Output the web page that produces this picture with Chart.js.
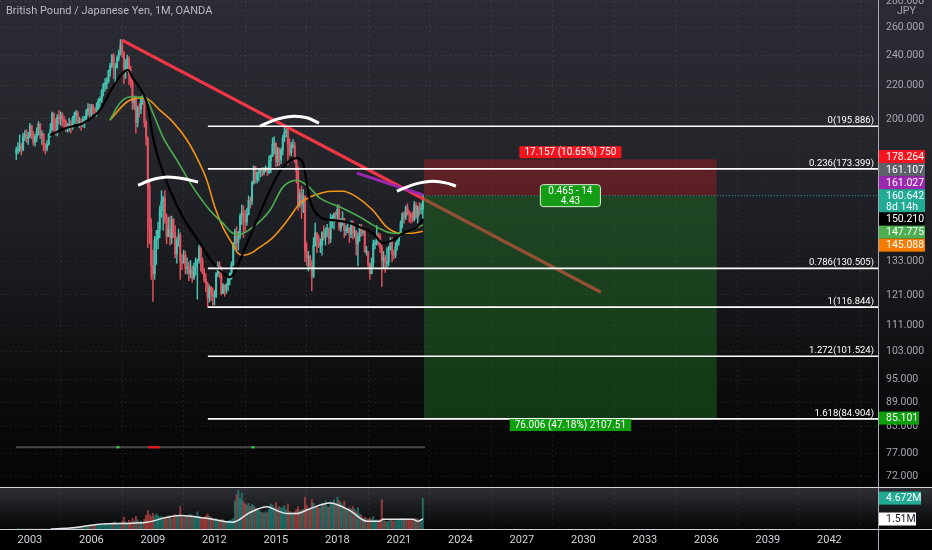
<!DOCTYPE html>
<html lang="en">
<head>
<meta charset="UTF-8">
<meta name="viewport" content="width=device-width, initial-scale=1.0">
<title>British Pound / Japanese Yen, 1M, OANDA</title>
<script src="https://cdn.jsdelivr.net/npm/chart.js"></script>
<style>
  html, body { margin: 0; padding: 0; background: #000; }
  #wrap { position: relative; width: 932px; height: 550px; overflow: hidden; }
  #pricePane { position: absolute; left: 0; top: 0; width: 932px; height: 488px;
    background: linear-gradient(180deg, #2b2c33 0%, #25262c 30%, #18191d 58%, #0c0c0e 80%, #040405 100%); }
  #volPane { position: absolute; left: 0; top: 488px; width: 932px; height: 62px;
    background: linear-gradient(180deg, #2f3035 0px, #18191c 22px, #050505 41px, #000 42px, #000 62px); }
  canvas { display: block; }
</style>
</head>
<body>
<div id="wrap">
  <div id="pricePane"><canvas id="priceChart" width="932" height="488"></canvas></div>
  <div id="volPane"><canvas id="volChart" width="932" height="62"></canvas></div>
</div>
<script>
Chart.defaults.font.family = 'Roboto, "Noto Sans", sans-serif';

// monthly candles, May 2002 .. Mar 2022
const firstYear = 2002;
const firstMonth = 5;
const firstOpen = 181.5;

const closes = [
  183.0,183.5,185.5,183.0,190.0,191.5,189.0,190.5,
  196.0,190.5,187.0,190.0,193.0,197.0,191.0,191.5,185.0,183.5,186.0,191.5,
  194.0,203.0,195.0,192.0,201.0,200.0,202.5,199.0,198.5,195.0,195.5,197.0,
  195.0,200.5,202.0,203.5,198.0,198.5,197.0,199.5,200.5,204.5,206.0,202.5,
  207.5,205.0,204.5,207.0,210.5,211.5,216.5,220.5,221.5,223.0,229.5,233.0,
  239.5,231.5,232.0,238.0,241.5,247.0,241.5,230.5,235.0,237.5,226.5,222.0,
  209.5,212.0,198.0,206.5,205.5,211.5,213.0,198.0,189.5,165.0,146.5,131.5,
  128.5,141.5,142.0,145.5,154.0,158.0,159.5,150.0,143.0,146.0,142.5,150.0,
  144.5,136.0,141.5,143.5,133.0,132.5,135.5,130.5,131.0,128.5,130.0,127.0,
  131.0,133.0,133.5,138.5,133.5,129.0,126.5,125.0,120.0,123.5,121.5,120.5,
  120.5,128.5,131.5,131.0,121.5,124.5,122.5,124.5,126.5,128.5,132.0,140.0,
  145.0,140.5,143.0,151.5,153.0,151.0,149.0,152.5,158.5,158.0,166.5,174.5,
  168.0,171.5,172.0,173.0,171.5,173.5,173.5,171.5,177.5,180.0,186.0,186.5,
  177.0,183.5,178.0,183.0,189.5,192.5,193.5,186.0,181.5,185.0,185.5,177.5,
  172.0,156.5,161.5,156.5,160.5,137.0,134.5,135.0,131.5,127.5,139.5,144.5,
  142.0,139.5,139.5,144.5,142.5,146.0,146.0,142.0,150.5,151.0,152.5,152.0,
  154.5,146.5,149.0,150.5,145.5,146.0,146.5,144.0,148.0,144.5,145.0,140.0,
  143.0,147.0,144.5,145.0,137.0,137.0,132.0,128.5,132.5,140.0,140.5,143.5,
  143.0,138.5,133.5,134.5,132.5,133.0,138.5,141.5,136.0,135.5,139.0,141.0,
  143.5,148.5,152.5,151.0,155.5,153.5,152.5,151.0,150.0,156.5,151.0,155.5,
  154.5,154.5,160.642
];
const highs = [
  184.5,187.0,191.0,186.5,192.0,193.5,194.0,192.5,
  197.5,196.5,193.0,191.5,195.0,198.5,197.5,193.5,192.0,186.5,188.0,192.0,
  197.5,204.0,203.5,200.0,202.5,205.0,204.0,203.5,201.5,199.5,197.5,200.5,
  199.0,201.5,204.0,205.0,204.5,201.0,200.0,201.5,201.5,205.5,209.0,208.5,
  208.5,208.5,206.5,209.5,212.0,213.0,217.5,221.5,224.5,225.0,230.0,234.5,
  240.5,241.0,234.5,239.5,243.5,251.0,250.5,242.5,237.0,240.0,239.0,232.5,
  224.5,213.5,213.5,207.5,209.0,213.0,215.5,213.5,199.5,190.0,168.0,150.5,
  137.5,143.0,145.5,149.0,156.0,163.0,160.5,163.0,152.5,151.0,151.5,151.5,
  150.5,147.5,142.5,146.0,144.5,136.0,137.5,137.0,134.5,133.0,133.5,131.5,
  132.5,134.5,134.0,139.5,139.0,134.5,130.5,128.5,125.5,124.5,124.0,123.5,
  122.5,129.0,133.0,133.0,130.5,125.0,124.5,125.0,127.5,129.0,133.0,140.5,
  146.0,147.0,145.0,152.5,156.5,156.0,154.0,155.0,160.5,160.0,167.5,175.0,
  174.5,172.0,173.0,173.5,174.0,174.0,175.0,174.0,180.0,180.5,189.5,190.0,
  187.0,184.5,184.0,184.0,191.0,195.9,195.0,195.5,189.0,187.0,188.5,187.0,
  178.5,174.5,163.5,165.0,163.5,160.5,140.5,137.0,135.5,133.5,142.5,148.5,
  144.5,143.5,142.0,145.0,147.5,146.5,148.0,146.5,152.5,152.0,153.0,153.5,
  156.5,156.5,150.5,153.5,150.5,147.5,149.0,146.5,149.5,149.5,147.0,145.5,
  144.5,148.0,148.0,146.5,146.0,139.0,137.0,132.5,134.5,141.5,141.5,147.5,
  144.5,144.0,139.5,137.0,135.5,138.5,139.0,142.5,142.5,137.5,140.5,141.5,
  144.5,149.5,153.0,153.5,156.0,157.0,154.0,153.0,153.5,158.0,157.5,156.0,
  157.5,157.0,161.1
];
const lows = [
  178.0,181.0,182.0,180.5,182.5,188.0,187.0,186.0,
  189.5,189.0,185.5,185.0,187.5,191.0,189.0,186.0,182.5,181.0,182.5,185.5,
  190.0,193.5,192.0,191.0,190.5,197.0,196.5,196.0,195.0,193.0,192.5,193.0,
  192.0,194.0,197.5,197.5,196.5,195.0,193.5,195.5,195.0,198.0,202.0,200.0,
  201.5,203.0,201.5,201.5,204.5,205.0,209.5,213.5,216.5,218.0,221.5,226.0,
  231.5,224.5,220.5,231.0,236.0,240.0,238.5,221.0,224.5,229.0,220.5,219.0,
  205.5,205.5,192.0,195.5,201.0,203.0,208.5,195.5,185.5,138.5,140.0,126.5,
  118.8,126.5,132.0,138.0,142.5,151.0,145.5,148.5,140.0,143.0,139.5,140.0,
  142.5,134.5,132.5,139.0,126.5,130.0,132.5,128.5,128.5,126.0,127.0,125.5,
  126.5,128.0,119.5,132.5,129.5,128.5,125.5,122.0,116.8,118.5,119.0,117.5,
  117.5,120.0,127.5,127.0,121.0,121.5,120.5,121.5,122.5,124.5,126.5,131.5,
  138.0,137.5,137.5,142.0,148.0,142.5,145.0,147.5,152.0,155.0,156.5,166.0,
  166.5,166.5,167.5,169.5,170.0,170.5,172.0,170.0,171.0,171.5,179.5,181.0,
  174.5,175.0,175.0,176.0,180.5,187.5,190.0,175.5,180.0,180.0,184.0,176.5,
  166.5,154.0,155.5,150.5,153.0,133.0,131.5,129.5,130.5,122.4,127.0,139.0,
  136.5,138.5,136.5,135.5,141.5,139.5,143.0,140.0,140.5,146.5,146.0,149.0,
  150.0,145.5,145.0,147.5,142.5,143.5,144.5,140.5,142.5,142.0,142.5,135.5,
  131.5,141.0,143.0,143.5,136.5,135.5,130.5,126.5,128.5,131.0,138.0,139.5,
  139.5,136.5,124.0,130.5,129.0,130.5,131.5,137.5,133.0,134.0,134.5,137.5,
  139.5,143.0,146.5,148.5,150.0,152.0,149.0,148.5,149.0,149.5,150.5,148.5,
  152.0,152.5,150.5
];
// volume, millions
const volumes = [
  0,0,0,0,0,0,0,0,
  0,0,0,0,0,0,0,0,0,0,0,0,
  0,0,0,0,0,0,0,0,0,0.05,0.08,0.1,
  0.15,0.2,0.18,0.25,0.3,0.22,0.28,0.35,0.3,0.4,0.38,0.45,
  0.5,0.45,0.55,0.6,0.7,0.65,0.6,0.55,0.7,0.75,0.8,0.7,
  0.9,1.0,1.1,0.8,0.7,0.9,1.2,1.8,1.1,0.9,1.3,1.0,
  1.6,1.2,1.9,1.4,1.1,1.2,1.0,1.5,2.1,2.8,2.2,1.9,
  2.4,2.0,2.3,2.0,1.8,1.9,1.7,1.8,1.9,2.0,1.9,1.6,
  2.0,2.2,2.1,1.9,3.4,1.8,1.7,1.9,2.0,2.1,2.2,1.8,
  2.0,1.8,2.6,1.9,1.8,1.7,1.6,2.0,2.3,1.9,1.8,1.6,
  1.5,1.6,1.4,1.3,1.5,1.4,1.2,1.1,1.2,1.3,1.4,1.6,
  4.2,5.2,5.8,4.6,5.4,4.2,3.8,3.6,3.9,3.4,3.7,3.5,
  3.2,3.0,2.8,2.6,2.5,2.4,2.6,2.5,3.0,3.8,3.6,3.2,
  4.0,3.2,3.4,3.1,3.3,3.5,2.9,3.8,2.7,2.5,2.4,2.6,
  3.0,3.4,2.8,2.9,3.0,4.8,3.6,3.0,2.9,4.5,3.9,3.4,
  3.5,3.2,3.3,3.9,3.6,4.2,3.4,3.3,4.1,3.8,4.4,3.6,
  4.8,4.3,4.0,3.6,4.2,3.1,2.8,3.2,3.0,3.4,3.0,2.6,
  3.2,2.3,2.1,1.6,1.8,1.6,1.5,1.7,1.5,1.9,1.3,1.4,
  1.2,1.5,4.4,1.3,1.2,1.1,1.2,1.3,1.4,1.2,1.3,1.3,
  1.4,1.5,1.6,1.4,1.5,1.3,1.4,1.3,1.4,1.5,1.6,1.5,
  1.4,1.5,4.672
];

const yearTicks = [2003, 2006, 2009, 2012, 2015, 2018, 2021, 2024, 2027, 2030, 2033, 2036, 2039, 2042];
const priceTicks = [72, 77, 83, 89, 95, 103, 111, 121, 133, 200, 220, 240, 260, 280];
const yearMin = 2001.54, yearMax = 2044.37;
const priceMin = 69.7, priceMax = 280.9;
const volMax = 6.2;

// moving averages
const blackYears = [2003.98, 2004.8, 2005.59, 2006.41, 2007.05, 2007.78, 2008.02, 2008.51, 2008.76, 2009.0, 2009.34, 2009.83, 2010.46, 2011.29, 2011.93, 2012.41, 2012.76, 2013.1, 2013.59, 2014.22, 2014.71, 2015.34, 2016.02, 2016.32, 2016.66, 2017.15, 2017.78, 2018.46, 2019.1, 2019.73, 2020.22, 2020.71, 2021.2, 2021.88, 2022.17];
const blackVals = [191, 195, 197.6, 205.1, 219, 230, 224.7, 215.3, 206.9, 189.9, 176.3, 163.2, 151.1, 140.3, 132.5, 128.8, 127.3, 131.0, 140.3, 152.8, 163.2, 174.3, 178.8, 176.3, 158.6, 151.1, 149.8, 148.9, 146.8, 144.3, 140.3, 141.5, 144.3, 146.8, 150.21];
const greenYears = [2006.9, 2007.39, 2007.88, 2008.37, 2008.61, 2009.0, 2009.49, 2010.17, 2010.95, 2011.78, 2012.41, 2012.9, 2013.24, 2013.88, 2014.71, 2015.34, 2016.02, 2016.51, 2017.15, 2018.12, 2019.1, 2019.93, 2020.71, 2021.39, 2022.17];
const greenVals = [199.3, 209.3, 212.9, 212.9, 212.9, 203.4, 189.9, 177.8, 164.6, 154.1, 148.5, 144.3, 143.9, 146.8, 154.1, 164.6, 167.9, 165.5, 159.5, 155.5, 151.1, 146.8, 144.3, 144.7, 147.775];
const orangeYears = [2006.9, 2007.73, 2008.37, 2008.61, 2009.34, 2009.98, 2010.66, 2011.2, 2011.63, 2012.02, 2012.41, 2012.85, 2013.15, 2013.39, 2013.88, 2014.22, 2014.71, 2015.05, 2015.68, 2016.17, 2016.66, 2017.78, 2018.27, 2018.95, 2019.73, 2020.41, 2021.05, 2021.68, 2022.17];
const orangeVals = [199.3, 209.9, 212.3, 212.3, 205.1, 198.2, 188.3, 177.8, 167.9, 155.5, 146.8, 140.3, 136.3, 135.5, 136.7, 138.7, 141.5, 144.3, 151.1, 157.2, 160.0, 162.7, 162.7, 160.0, 154.1, 146.8, 144.3, 144.3, 145.088];
const volMaYears = [2004.02, 2004.95, 2006.41, 2008.02, 2008.71, 2009.68, 2010.32, 2011.63, 2012.9, 2013.73, 2014.56, 2015.05, 2015.54, 2016.02, 2016.66, 2017.63, 2018.61, 2019.44, 2020.07, 2020.22, 2021.68, 2021.93, 2022.17];
const volMaVals = [0.0, 0.15, 0.73, 0.88, 1.02, 1.76, 2.05, 1.61, 1.02, 2.49, 3.37, 2.78, 2.34, 2.34, 3.07, 3.95, 2.78, 1.17, 1.17, 1.46, 1.46, 1.17, 1.51];

// drawings
const trendYears = [2007.49, 2030.85];
const trendPrices = [250.5, 121.9];
const purpleYears = [2018.95, 2022.17];
const purplePrices = [171.3, 161.027];
const arc1Years = [2008.27, 2008.95, 2009.73, 2010.5, 2011.2];
const arc1Prices = [165.5, 168.1, 169.4, 168.6, 167.0];
const arc2Years = [2014.22, 2015.05, 2015.93, 2016.56, 2017.1];
const arc2Prices = [195.9, 199.9, 201.6, 200.5, 197.6];
const arc3Years = [2020.9, 2021.78, 2022.66, 2023.34, 2023.78];
const arc3Prices = [162.7, 166.0, 167.4, 166.5, 165.1];

const fibRatios = ['0', '0.236', '0.786', '1', '1.272', '1.618'];
const fibPrices = [195.886, 173.399, 130.505, 116.844, 101.524, 84.904];
const fibStartYear = 2011.68;

const posYears = [2022.22, 2036.51];
const stopPrice = 178.264;
const entryPrice = 160.642;
const targetPrice = 85.101;
const riskText = '17.157 (10.65%) 750';
const ratioText = ['0.465 - 14', '4.43'];
const rewardText = '76.006 (47.18%) 2107.51';

const stripYears = [2002.32, 2022.27];
const stripPrice = 78.3;
const greenSignalYears = [2007.29, 2013.88];
const redSignalYears = [2008.76, 2009.34];

const tagValues = [178.264, 161.107, 161.027, 160.642, 150.210, 147.775, 145.088];
const currentTagIndex = 3;
const countdownText = '8d 14h';

// ---------- build datasets ----------
const upColor = '#45c2b1';
const downColor = '#e5515f';
const candleX = closes.map((c, i) => firstYear + (firstMonth - 1 + i) / 12);
const opens = closes.map((c, i) => i === 0 ? firstOpen : closes[i - 1]);
const candleColors = closes.map((c, i) => c >= opens[i] ? upColor : downColor);
const volColors = closes.map((c, i) => c >= opens[i] ? 'rgba(38,166,154,0.55)' : 'rgba(239,83,80,0.55)');

function pts(xs, ys) { return xs.map((x, i) => ({ x: x, y: ys[i] })); }
function flat(xs, v) { return xs.map(x => ({ x: x, y: v })); }

function lineSet(data, color, width, order, extra) {
  return Object.assign({
    type: 'line', data: data, borderColor: color, borderWidth: width,
    pointRadius: 0, fill: false, order: order, tension: 0
  }, extra || {});
}

const priceDatasets = [
  {
    type: 'bar', data: candleX.map((x, i) => ({ x: x, y: [lows[i], highs[i]] })),
    backgroundColor: candleColors, barThickness: 0.8, grouped: false, order: 100
  },
  {
    type: 'bar', data: candleX.map((x, i) => ({ x: x, y: [opens[i], closes[i]] })),
    backgroundColor: candleColors, barThickness: 1.4, minBarLength: 1, grouped: false, order: 99
  },
  lineSet(pts(orangeYears, orangeVals), '#f39214', 1.6, 90, { cubicInterpolationMode: 'monotone' }),
  lineSet(pts(greenYears, greenVals), '#4caf50', 1.6, 89, { cubicInterpolationMode: 'monotone' }),
  lineSet(pts(blackYears, blackVals), '#000000', 2.2, 88, { cubicInterpolationMode: 'monotone' }),
  lineSet(pts(trendYears, trendPrices), '#f23645', 3.2, 80),
  // long position tool
  lineSet(flat(posYears, stopPrice), 'rgba(0,0,0,0)', 0, 70, { fill: '+1', backgroundColor: 'rgba(165,28,34,0.45)' }),
  lineSet(flat(posYears, entryPrice), 'rgba(0,0,0,0)', 0, 69, { fill: '+1', backgroundColor: 'rgba(30,112,34,0.45)' }),
  lineSet(flat(posYears, targetPrice), 'rgba(0,0,0,0)', 0, 68),
  lineSet(flat([candleX[candleX.length - 1], yearMax], entryPrice), '#26a69a', 1, 56, { borderDash: [1, 2] })
];
fibPrices.forEach(p => {
  priceDatasets.push(lineSet(flat([fibStartYear, yearMax], p), '#ffffff', 1.6, 60));
});
priceDatasets.push(lineSet(pts(purpleYears, purplePrices), '#9c27b0', 3, 50));
[[arc1Years, arc1Prices], [arc2Years, arc2Prices], [arc3Years, arc3Prices]].forEach(a => {
  priceDatasets.push(lineSet(pts(a[0], a[1]), '#ffffff', 3, 40, { cubicInterpolationMode: 'monotone' }));
});
priceDatasets.push(lineSet(flat(stripYears, stripPrice), '#46474d', 2, 30));
greenSignalYears.forEach(yv => {
  priceDatasets.push(lineSet(flat([yv - 0.08, yv + 0.08], stripPrice), '#2ecc40', 2.2, 29));
});
priceDatasets.push(lineSet(flat(redSignalYears, stripPrice), '#f0141e', 2.2, 29));

// ---------- overlay drawing ----------
function roundRect(ctx, x, y, w, h, r) {
  ctx.beginPath();
  ctx.moveTo(x + r, y);
  ctx.arcTo(x + w, y, x + w, y + h, r);
  ctx.arcTo(x + w, y + h, x, y + h, r);
  ctx.arcTo(x, y + h, x, y, r);
  ctx.arcTo(x, y, x + w, y, r);
  ctx.closePath();
}

function drawTag(ctx, left, top, w, h, bg, fg, lines) {
  ctx.fillStyle = bg;
  ctx.fillRect(left, top, w, h);
  ctx.fillStyle = fg;
  ctx.textAlign = 'left';
  ctx.textBaseline = 'middle';
  lines.forEach((t, k) => ctx.fillText(t, left + 7, top + 7 + k * 11));
}

const priceOverlay = {
  id: 'priceOverlay',
  afterDraw(chart) {
    const ctx = chart.ctx;
    const ca = chart.chartArea;
    const xs = chart.scales.x;
    const ys = chart.scales.y;
    ctx.save();

    // title
    ctx.font = '11px Roboto, sans-serif';
    ctx.fillStyle = '#b8bbc3';
    ctx.textAlign = 'left';
    ctx.textBaseline = 'middle';
    ctx.fillText('British Pound / Japanese Yen, 1M, OANDA', 6, 11);

    // price scale labels
    ctx.font = '10.5px Roboto, sans-serif';
    ctx.fillStyle = '#a3a6af';
    priceTicks.forEach(v => {
      ctx.fillText(v.toFixed(3), ca.right + 8, ys.getPixelForValue(v));
    });
    ctx.fillText('JPY', ca.right + 19, 11);

    // fib labels
    ctx.font = '9.5px Roboto, sans-serif';
    ctx.fillStyle = '#ffffff';
    ctx.textAlign = 'right';
    ctx.textBaseline = 'alphabetic';
    fibRatios.forEach((r, i) => {
      const py = ys.getPixelForValue(fibPrices[i]);
      ctx.fillText(r + '(' + fibPrices[i].toFixed(3) + ')', ca.right - 4, py - 3);
    });

    // position tool labels
    const mid = (xs.getPixelForValue(posYears[0]) + xs.getPixelForValue(posYears[1])) / 2;
    ctx.font = '10px Roboto, sans-serif';
    ctx.textAlign = 'center';
    ctx.textBaseline = 'middle';
    let w = ctx.measureText(riskText).width + 10;
    let top = ys.getPixelForValue(stopPrice) - 13;
    ctx.fillStyle = '#f7141e';
    ctx.fillRect(mid - w / 2, top, w, 12);
    ctx.fillStyle = '#ffffff';
    ctx.fillText(riskText, mid, top + 6.5);

    const ey = ys.getPixelForValue(entryPrice);
    w = Math.max(ctx.measureText(ratioText[0]).width, ctx.measureText(ratioText[1]).width) + 16;
    roundRect(ctx, mid - w / 2, ey - 11, w, 22, 3);
    ctx.fillStyle = '#149c14';
    ctx.fill();
    ctx.strokeStyle = '#d8f0d8';
    ctx.lineWidth = 1;
    ctx.stroke();
    ctx.fillStyle = '#ffffff';
    ctx.fillText(ratioText[0], mid, ey - 4.5);
    ctx.fillText(ratioText[1], mid, ey + 5.5);

    w = ctx.measureText(rewardText).width + 10;
    top = ys.getPixelForValue(targetPrice) + 1;
    ctx.fillStyle = '#0e9f0e';
    ctx.fillRect(mid - w / 2, top, w, 12);
    ctx.fillStyle = '#ffffff';
    ctx.fillText(rewardText, mid, top + 6.5);

    // pane frame
    ctx.strokeStyle = '#a9acb5';
    ctx.lineWidth = 1;
    ctx.beginPath();
    ctx.moveTo(ca.right + 0.5, 0);
    ctx.lineTo(ca.right + 0.5, chart.height);
    ctx.stroke();
    ctx.strokeStyle = '#d1d4dc';
    ctx.beginPath();
    ctx.moveTo(0, chart.height - 0.5);
    ctx.lineTo(chart.width, chart.height - 0.5);
    ctx.stroke();

    // scale tags
    ctx.font = '10.5px Roboto, sans-serif';
    const tagColors = ['#f7141e', '#5d606b', '#9c27b0', '#22ab94', '#000000', '#4caf50', '#f57c00'];
    const tagW = 46;
    const left = ca.right + 1;
    const hOf = i => i === currentTagIndex ? 23 : 13;
    const tops = [];
    tops[currentTagIndex] = ys.getPixelForValue(tagValues[currentTagIndex]) - 6.5;
    let edge = tops[currentTagIndex];
    for (let i = currentTagIndex - 1; i >= 0; i--) {
      const t = Math.min(ys.getPixelForValue(tagValues[i]) - 6.5, edge - hOf(i));
      tops[i] = t;
      edge = t;
    }
    edge = tops[currentTagIndex] + hOf(currentTagIndex);
    for (let i = currentTagIndex + 1; i < tagValues.length; i++) {
      const t = Math.max(ys.getPixelForValue(tagValues[i]) - 6.5, edge);
      tops[i] = t;
      edge = t + hOf(i);
    }
    tagValues.forEach((v, i) => {
      const lines = i === currentTagIndex ? [v.toFixed(3), countdownText] : [v.toFixed(3)];
      drawTag(ctx, left, tops[i], tagW, hOf(i), tagColors[i], '#ffffff', lines);
    });
    drawTag(ctx, left, ys.getPixelForValue(targetPrice) - 6.5, 40, 13, '#0e9f0e', '#ffffff', [targetPrice.toFixed(3)]);

    ctx.restore();
  }
};

const volOverlay = {
  id: 'volOverlay',
  afterDraw(chart) {
    const ctx = chart.ctx;
    const ca = chart.chartArea;
    const ys = chart.scales.y;
    ctx.save();
    ctx.lineWidth = 1;
    ctx.strokeStyle = '#d1d4dc';
    ctx.beginPath();
    ctx.moveTo(0, ca.bottom + 0.5);
    ctx.lineTo(chart.width, ca.bottom + 0.5);
    ctx.stroke();
    ctx.strokeStyle = '#a9acb5';
    ctx.beginPath();
    ctx.moveTo(ca.right + 0.5, 0);
    ctx.lineTo(ca.right + 0.5, chart.height);
    ctx.stroke();

    ctx.font = '10.5px Roboto, sans-serif';
    const lastVol = volumes[volumes.length - 1];
    const lastMa = volMaVals[volMaVals.length - 1];
    drawTag(ctx, ca.right + 1, ys.getPixelForValue(lastVol) - 6.5, 42, 13, '#22ab94', '#ffffff', [lastVol.toFixed(3) + 'M']);
    drawTag(ctx, ca.right + 1, ys.getPixelForValue(lastMa) - 6.5, 37, 13, '#ffffff', '#131722', [lastMa.toFixed(2) + 'M']);
    ctx.restore();
  }
};

const gridStyle = { color: 'rgba(255,255,255,0.07)', drawTicks: false };

new Chart(document.getElementById('priceChart'), {
  type: 'bar',
  data: { datasets: priceDatasets },
  options: {
    responsive: false,
    animation: false,
    layout: { padding: 0 },
    plugins: { legend: { display: false }, tooltip: { enabled: false } },
    scales: {
      x: {
        type: 'linear', min: yearMin, max: yearMax, bounds: 'data', offset: false,
        afterBuildTicks: ax => { ax.ticks = yearTicks.map(v => ({ value: v })); },
        afterFit: ax => { ax.height = 0; },
        ticks: { display: false },
        grid: gridStyle,
        border: { display: false, dash: [2, 3] }
      },
      y: {
        type: 'logarithmic', position: 'right', min: priceMin, max: priceMax, bounds: 'data',
        afterBuildTicks: ax => { ax.ticks = priceTicks.map(v => ({ value: v })); },
        afterFit: ax => { ax.width = 54; },
        ticks: { display: false },
        grid: gridStyle,
        border: { display: false, dash: [2, 3] }
      }
    }
  },
  plugins: [priceOverlay]
});

new Chart(document.getElementById('volChart'), {
  type: 'bar',
  data: {
    datasets: [
      {
        type: 'bar', data: pts(candleX, volumes), backgroundColor: volColors,
        barThickness: 1.4, grouped: false, order: 10
      },
      lineSet(pts(volMaYears, volMaVals), '#e6e7ea', 1.5, 5, { cubicInterpolationMode: 'monotone' })
    ]
  },
  options: {
    responsive: false,
    animation: false,
    layout: { padding: 0 },
    plugins: { legend: { display: false }, tooltip: { enabled: false } },
    scales: {
      x: {
        type: 'linear', min: yearMin, max: yearMax, bounds: 'data', offset: false,
        afterBuildTicks: ax => { ax.ticks = yearTicks.map(v => ({ value: v })); },
        afterFit: ax => { ax.height = 21; },
        ticks: { color: '#d1d4dc', font: { size: 11 }, padding: 5, maxRotation: 0, autoSkip: false, callback: v => String(v) },
        grid: gridStyle,
        border: { display: false, dash: [2, 3] }
      },
      y: {
        type: 'linear', position: 'right', min: 0, max: volMax, bounds: 'data',
        afterFit: ax => { ax.width = 54; },
        ticks: { display: false },
        grid: { display: false },
        border: { display: false }
      }
    }
  },
  plugins: [volOverlay]
});
</script>
</body>
</html>
